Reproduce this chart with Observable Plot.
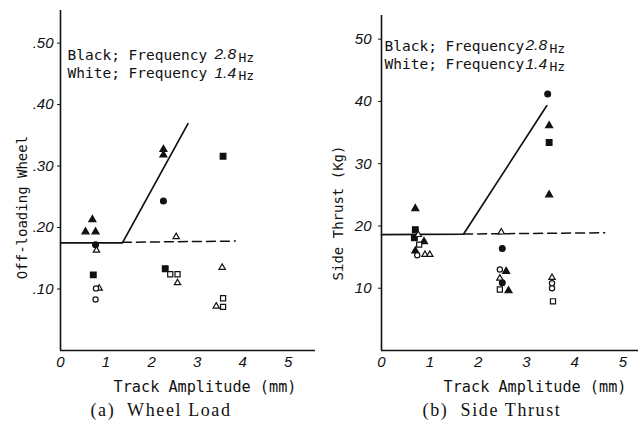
<!DOCTYPE html>
<html><head><meta charset="utf-8">
<script src="https://cdn.jsdelivr.net/npm/d3@7"></script>
<script src="https://cdn.jsdelivr.net/npm/@observablehq/plot@0.6"></script>
<style>
body{margin:0;background:#fff;}
#wrap{position:relative;width:638px;height:430px;overflow:hidden;background:#fff;}
.panel{position:absolute;top:0;width:319px;}
.cap{position:absolute;top:400px;font-family:"Liberation Serif","DejaVu Serif",serif;font-size:18px;letter-spacing:1.6px;white-space:pre;transform:translateX(-50%);color:#111;}
</style></head><body>
<div id="wrap">
<div id="a" class="panel" style="left:0"></div>
<div id="b" class="panel" style="left:319px"></div>
<div id="capA" class="cap" style="left:161px"></div>
<div id="capB" class="cap" style="left:492px"></div>
</div>
<script>
// ---------- shared text ----------
const xTicks = [0, 1, 2, 3, 4, 5];
const xLabel = "Track Amplitude (mm)";
const legendLabels = ["Black; Frequency", "White; Frequency"];
const legendFreqs = ["2.8", "1.4"];
const legendUnit = "Hz";
const captions = ["(a)  Wheel Load", "(b)  Side Thrust"];

// ---------- (a) Wheel Load ----------
const wheelYLabel = "Off-loading Wheel";
const wheelYTicks = [0.1, 0.2, 0.3, 0.4, 0.5];
const wheelYTickLabels = [".10", ".20", ".30", ".40", ".50"];
const wheelFilledTri = [[0.70, 0.213], [0.55, 0.193], [0.77, 0.193], [2.26, 0.327], [2.26, 0.318]];
const wheelFilledCircle = [[0.77, 0.172], [2.26, 0.243]];
const wheelFilledSquare = [[0.72, 0.123], [2.30, 0.133], [3.57, 0.316]];
const wheelOpenTri = [[0.79, 0.163], [0.85, 0.101], [2.54, 0.185], [2.57, 0.110], [3.55, 0.135], [3.42, 0.072]];
const wheelOpenCircle = [[0.78, 0.101], [0.77, 0.083]];
const wheelOpenSquare = [[2.41, 0.124], [2.57, 0.124], [3.57, 0.085], [3.57, 0.071]];
const wheelSolidX = [0, 1.36, 2.80];
const wheelSolidY = [0.175, 0.175, 0.369];
const wheelDashX = [1.36, 3.84];
const wheelDashY = [0.176, 0.178];

// ---------- (b) Side Thrust ----------
const thrustYLabel = "Side Thrust (Kg)";
const thrustYTicks = [10, 20, 30, 40, 50];
const thrustYTickLabels = ["10", "20", "30", "40", "50"];
const thrustFilledTri = [[0.70, 22.8], [0.70, 16.0], [0.88, 17.5], [3.47, 36.1], [3.47, 25.0], [2.63, 9.6], [2.58, 12.7]];
const thrustFilledCircle = [[3.44, 41.2], [2.50, 16.4], [2.50, 10.9]];
const thrustFilledSquare = [[0.70, 19.4], [0.68, 18.1], [3.47, 33.4]];
const thrustOpenTri = [[0.76, 18.6], [0.90, 15.4], [1.00, 15.4], [2.48, 19.0], [2.45, 11.6], [3.53, 11.7]];
const thrustOpenCircle = [[0.74, 15.3], [2.45, 13.0], [3.53, 10.8], [3.53, 10.0]];
const thrustOpenSquare = [[0.78, 17.0], [2.45, 9.8], [3.55, 7.9]];
const thrustSolidX = [0, 1.70, 3.42];
const thrustSolidY = [18.6, 18.7, 39.3];
const thrustDashX = [1.70, 4.62];
const thrustDashY = [18.7, 18.9];

const mono = "'DejaVu Sans Mono', 'Liberation Mono', monospace";
const sans = "'Liberation Sans', Arial, sans-serif";

const sizes = {triangle: 2.6, circle: 2.9, square: 3.2};
function dots(arr, symbol, filled) {
  return Plot.dot(arr, {x: d => d[0], y: d => d[1], symbol,
    r: filled ? sizes[symbol] : sizes[symbol] * 0.9,
    fill: filled ? "#111" : "white", stroke: "#111", strokeWidth: 1.2});
}

function panel(o) {
  const solid = o.solidX.map((x, i) => ({x, y: o.solidY[i]}));
  const dash = o.dashX.map((x, i) => ({x, y: o.dashY[i]}));
  return Plot.plot({
    width: 319, height: 398,
    marginLeft: o.ml, marginRight: o.mr, marginTop: o.mt, marginBottom: 48,
    x: {domain: o.xDomain},
    y: {domain: o.yDomain},
    style: {background: "white", color: "#111", fontFamily: sans},
    marks: [
      Plot.ruleX([0], {strokeWidth: 1.6, stroke: "#111"}),
      Plot.ruleY([0], {strokeWidth: 1.6, stroke: "#111"}),
      Plot.axisY(o.yTicks, {tickSize: 3, tickPadding: o.ytp, tickFormat: (d, i) => o.yTickLabels[i],
        fontStyle: "italic", fontSize: 15, label: null}),
      Plot.axisX(xTicks, {tickSize: 0, tickPadding: 6, tickFormat: d => String(d),
        fontStyle: "italic", fontSize: 15, label: null}),
      Plot.line(solid, {x: "x", y: "y", stroke: "#111", strokeWidth: 1.7}),
      Plot.line(dash, {x: "x", y: "y", stroke: "#111", strokeWidth: 1.5, strokeDasharray: "9,5"}),
      dots(o.ft, "triangle", true),
      dots(o.fc, "circle", true),
      dots(o.fs, "square", true),
      dots(o.ot, "triangle", false),
      dots(o.oc, "circle", false),
      dots(o.os, "square", false),
      Plot.text([legendLabels.join("\n")], {frameAnchor: "top-left", textAnchor: "start", lineAnchor: "top",
        dx: o.lgx, dy: o.lgy, fontFamily: mono, fontSize: 14.5, lineHeight: 1.25}),
      Plot.text([legendFreqs.join("\n")], {frameAnchor: "top-left", textAnchor: "start", lineAnchor: "top",
        dx: o.lgx + o.fqx, dy: o.lgy - 1, fontFamily: sans, fontStyle: "italic", fontSize: 15.5, lineHeight: 1.17}),
      Plot.text([[legendUnit, legendUnit].join("\n")], {frameAnchor: "top-left", textAnchor: "start", lineAnchor: "top",
        dx: o.lgx + o.hzx, dy: o.lgy + 2, fontFamily: mono, fontSize: 13, lineHeight: 1.39}),
      Plot.text([o.yLabel], {frameAnchor: "left", textAnchor: "middle", rotate: -90, dx: o.ylx, dy: o.yly,
        fontFamily: mono, fontSize: 14}),
      Plot.text([xLabel], {frameAnchor: "bottom", textAnchor: "middle", lineAnchor: "middle", dx: o.xlx, dy: 37,
        fontFamily: mono, fontSize: 15.2})
    ]
  });
}

document.getElementById("a").append(panel({
  ml: 60, mr: 4, mt: 10, ytp: 4,
  xDomain: [0, 5.6], yDomain: [0, 0.553],
  yTicks: wheelYTicks, yTickLabels: wheelYTickLabels, yLabel: wheelYLabel,
  ft: wheelFilledTri, fc: wheelFilledCircle, fs: wheelFilledSquare,
  ot: wheelOpenTri, oc: wheelOpenCircle, os: wheelOpenSquare,
  solidX: wheelSolidX, solidY: wheelSolidY, dashX: wheelDashX, dashY: wheelDashY,
  lgx: 7, lgy: 37, fqx: 147, hzx: 171, ylx: -38, yly: 27, xlx: 17
}));
document.getElementById("b").append(panel({
  ml: 62, mr: 0, mt: 15, ytp: 7,
  xDomain: [0, 5.32], yDomain: [0, 53.8],
  yTicks: thrustYTicks, yTickLabels: thrustYTickLabels, yLabel: thrustYLabel,
  ft: thrustFilledTri, fc: thrustFilledCircle, fs: thrustFilledSquare,
  ot: thrustOpenTri, oc: thrustOpenCircle, os: thrustOpenSquare,
  solidX: thrustSolidX, solidY: thrustSolidY, dashX: thrustDashX, dashY: thrustDashY,
  lgx: 3, lgy: 23, fqx: 141, hzx: 165, ylx: -43, yly: 30, xlx: 25
}));
document.getElementById("capA").textContent = captions[0];
document.getElementById("capB").textContent = captions[1];
</script>
</body></html>
